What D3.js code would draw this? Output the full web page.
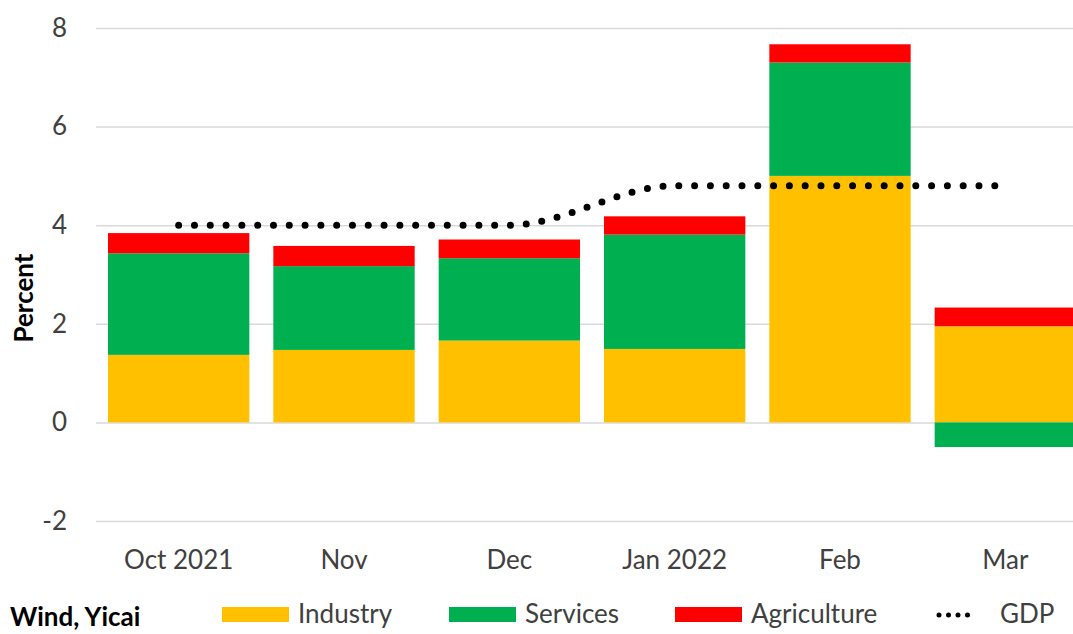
<!DOCTYPE html>
<html>
<head>
<meta charset="utf-8">
<script src="https://cdn.jsdelivr.net/npm/d3@7"></script>
<style>
  body { margin: 0; background: #fff; }
  svg text { font-family: Lato, "Open Sans", sans-serif; fill: #404040; }
</style>
</head>
<body>
<div id="chart"></div>
<script>
// DATA
const months = ["Oct 2021", "Nov", "Dec", "Jan 2022", "Feb", "Mar"];
const industry = [1.37, 1.47, 1.66, 1.49, 5.0, 1.95];
const services = [2.06, 1.7, 1.67, 2.32, 2.3, -0.5];
const agriculture = [0.41, 0.41, 0.38, 0.37, 0.37, 0.38];
const gdp = [4.0, 4.0, 4.0, 4.8, 4.8, 4.8];
const yTicks = [-2, 0, 2, 4, 6, 8];

const seriesNames = ["Industry", "Services", "Agriculture"];
const colors = { Industry: "#FFC000", Services: "#00B050", Agriculture: "#FF0000" };

// SVG SIZE
const w = 1073;
const h = 634;

const svg = d3.select("#chart").append("svg").attr("width", w).attr("height", h);

// SCALES
const x = d3.scaleBand()
  .domain(months)
  .range([96, 1088])
  .paddingInner(0.145)
  .paddingOuter(0.0725);

const y = d3.scaleLinear().domain([-2, 8]).range([521, 28]);

// GRIDLINES + Y LABELS
const yAxis = d3.axisLeft(y)
  .tickValues(yTicks)
  .tickSize(-(1088 - 96))
  .tickPadding(29)
  .tickFormat(d => String(d));

svg.append("g")
  .attr("transform", "translate(96,0)")
  .call(yAxis)
  .call(g => g.select(".domain").remove())
  .call(g => g.selectAll("line").attr("stroke", "#d9d9d9").attr("stroke-width", 1.5))
  .call(g => g.selectAll("text").style("font-size", "26px").attr("fill", "#404040"));

// STACKED BARS
const table = months.map((m, i) => ({
  month: m,
  Industry: industry[i],
  Services: services[i],
  Agriculture: agriculture[i]
}));

const stack = d3.stack().keys(seriesNames).offset(d3.stackOffsetDiverging);
const layers = stack(table);

svg.append("g")
  .selectAll("g")
  .data(layers)
  .enter()
  .append("g")
  .attr("fill", d => colors[d.key])
  .selectAll("rect")
  .data(d => d)
  .enter()
  .append("rect")
  .attr("x", d => x(d.data.month))
  .attr("width", x.bandwidth())
  .attr("y", d => y(Math.max(d[0], d[1])))
  .attr("height", d => Math.abs(y(d[0]) - y(d[1])));

// GDP LINE (dotted, smoothed)
const line = d3.line()
  .x((d, i) => x(months[i]) + x.bandwidth() / 2)
  .y(d => y(d))
  .curve(d3.curveMonotoneX);

svg.append("path")
  .datum(gdp)
  .attr("d", line)
  .attr("fill", "none")
  .attr("stroke", "#000")
  .attr("stroke-width", 7)
  .attr("stroke-linecap", "round")
  .attr("stroke-dasharray", "0 15.8");

// X LABELS
const xAxis = d3.axisBottom(x).tickSize(0).tickPadding(30);
svg.append("g")
  .attr("transform", "translate(0,521)")
  .call(xAxis)
  .call(g => g.select(".domain").remove())
  .call(g => g.selectAll("text").style("font-size", "26px").attr("fill", "#404040"));

// Y TITLE
svg.append("text")
  .attr("transform", "translate(33,298) rotate(-90)")
  .attr("text-anchor", "middle")
  .style("font-size", "26px")
  .style("font-weight", "bold")
  .style("fill", "#000")
  .text("Percent");

// SOURCE
svg.append("text")
  .attr("x", 10)
  .attr("y", 626)
  .style("font-size", "26px")
  .style("font-weight", "bold")
  .style("fill", "#000")
  .text("Wind, Yicai");

// LEGEND
const legendItems = [
  { name: "Industry", sx: 222, tx: 298 },
  { name: "Services", sx: 449, tx: 525 },
  { name: "Agriculture", sx: 675, tx: 751 }
];

const legend = svg.append("g").attr("class", "legend");

legend.selectAll("rect")
  .data(legendItems)
  .enter()
  .append("rect")
  .attr("x", d => d.sx)
  .attr("y", 607)
  .attr("width", 67)
  .attr("height", 15)
  .attr("fill", d => colors[d.name]);

legend.selectAll("text")
  .data(legendItems)
  .enter()
  .append("text")
  .attr("x", d => d.tx)
  .attr("y", 623)
  .style("font-size", "26px")
  .text(d => d.name);

legend.append("line")
  .attr("x1", 939)
  .attr("x2", 977)
  .attr("y1", 615)
  .attr("y2", 615)
  .attr("stroke", "#000")
  .attr("stroke-width", 5)
  .attr("stroke-linecap", "round")
  .attr("stroke-dasharray", "0 9.5");

legend.append("text")
  .attr("x", 1000)
  .attr("y", 623)
  .style("font-size", "26px")
  .text("GDP");
</script>
</body>
</html>
